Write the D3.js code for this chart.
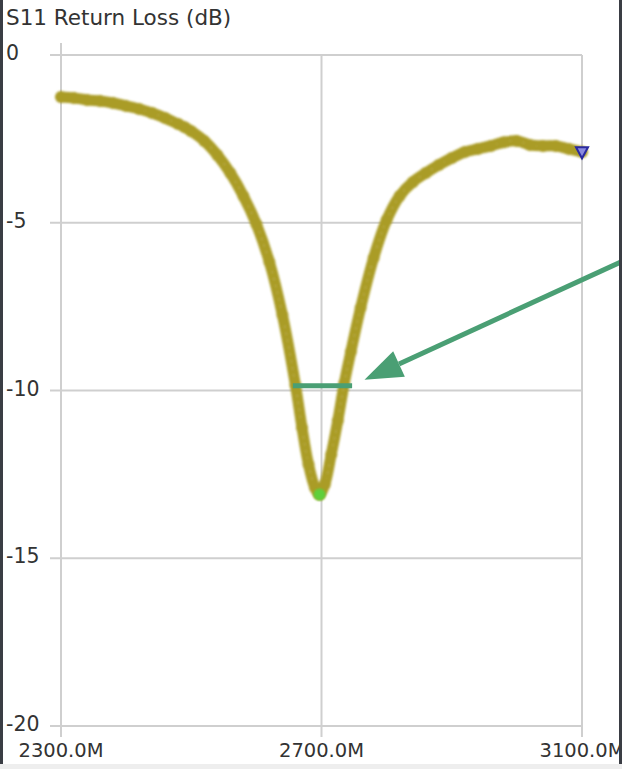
<!DOCTYPE html>
<html><head><meta charset="utf-8">
<script src="https://cdn.jsdelivr.net/npm/d3@7"></script>
<style>
html,body{margin:0;padding:0;background:#fff;}
svg{display:block;}
text{font-family:"DejaVu Sans",Verdana,sans-serif;fill:#333;}
</style></head>
<body>
<script>
// ---- data ----
const title = "S11 Return Loss (dB)";
const freqMHz = [2300,2320,2340,2360,2380,2400,2420,2440,2460,2480,2490,2500,2520,2540,2560,2580,2600,2620,2640,2660,2670,2680,2690,2697,2705,2715,2725,2735,2745,2760,2780,2800,2820,2840,2860,2880,2900,2920,2940,2960,2980,3000,3020,3040,3060,3080,3100];
const s11dB = [-1.25,-1.28,-1.34,-1.37,-1.43,-1.52,-1.61,-1.73,-1.88,-2.06,-2.15,-2.27,-2.56,-2.98,-3.52,-4.2,-5.04,-6.17,-7.75,-9.84,-11.1,-12.2,-12.9,-13.1,-12.8,-11.9,-10.9,-9.78,-8.85,-7.54,-6.05,-4.92,-4.2,-3.79,-3.52,-3.28,-3.07,-2.89,-2.8,-2.71,-2.6,-2.56,-2.68,-2.71,-2.71,-2.8,-2.89];
const xTicks = [2300,2700,3100];
const xTickLabels = ["2300.0M","2700.0M","3100.0M"];
const yTicks = [0,-5,-10,-15,-20];
const minMarker = {f:2697, db:-13.1};
const endMarker = {f:3100, db:-2.9};
const bandLine = [{f:2656, db:-9.86},{f:2747, db:-9.86}];
const arrow = {from:{f:3162, db:-6.15}, to:{f:2766, db:-9.68}};

// ---- layout ----
const W=622,H=769;
const x = d3.scaleLinear().domain([2300,3100]).range([61,582]);
const y = d3.scaleLinear().domain([0,-20]).range([55,726]);

const svg = d3.select("body").append("svg").attr("width",W).attr("height",H);
svg.append("rect").attr("width",W).attr("height",H).attr("fill","#fff");

const grid = "#cfcfcf";
svg.append("g").selectAll("line").data(yTicks).join("line")
  .attr("x1",50).attr("x2",x(3100)).attr("y1",d=>y(d)).attr("y2",d=>y(d))
  .attr("stroke",grid).attr("stroke-width",2);
svg.append("g").selectAll("line").data(xTicks).join("line")
  .attr("x1",d=>x(d)).attr("x2",d=>x(d))
  .attr("y1",(d,i)=>i===0?43:y(0)).attr("y2",737)
  .attr("stroke",grid).attr("stroke-width",2);

// title
svg.append("text").attr("x",6).attr("y",25).attr("font-size",21.5).text(title);
// y labels
svg.append("g").selectAll("text").data(yTicks).join("text")
  .attr("x",6).attr("y",d=>y(d)-2).attr("dy","0.35em").attr("font-size",20.5)
  .text(d=>d===0?"0":String(d).replace("\u2212","-"));
// x labels
svg.append("g").selectAll("text").data(xTicks).join("text")
  .attr("x",d=>x(d)).attr("y",757).attr("text-anchor","middle").attr("font-size",19.5)
  .text((d,i)=>xTickLabels[i]);

// trace
const pts = freqMHz.map((f,i)=>({f,db:s11dB[i]}));
const defs = svg.append("defs");
defs.append("filter").attr("id","soft").append("feGaussianBlur").attr("stdDeviation",0.8);
const line = d3.line().x(d=>x(d.f)).y(d=>y(d.db)).curve(d3.curveCatmullRom);
const tg = svg.append("g").attr("filter","url(#soft)");
tg.append("path").datum(pts).attr("d",line).attr("fill","none")
  .attr("stroke","#aa9c26").attr("stroke-width",11).attr("stroke-linecap","round").attr("stroke-linejoin","round");
tg.append("path").datum(pts).attr("d",line).attr("fill","none")
  .attr("stroke","#c4b660").attr("stroke-width",2).attr("stroke-dasharray","2 5").attr("opacity",0.5);
tg.selectAll("circle").data(pts).join("circle")
  .attr("cx",d=>x(d.f)).attr("cy",d=>y(d.db)).attr("r",6).attr("fill","#aa9c26");

// min marker
svg.append("circle").attr("cx",x(minMarker.f)).attr("cy",y(minMarker.db)).attr("r",6)
  .attr("fill","#5fcf3a").attr("filter","url(#soft)");
// end marker (inverted triangle)
const ex=x(endMarker.f), ey=y(endMarker.db);
svg.append("path").attr("d",`M${ex-6},${ey-5}L${ex+6},${ey-5}L${ex},${ey+6}Z`)
  .attr("fill","#8a8ae0").attr("stroke","#2a2aa0").attr("stroke-width",2);

// annotation
const ac="#4a9f74";
svg.append("line").attr("x1",x(bandLine[0].f)).attr("x2",x(bandLine[1].f))
  .attr("y1",y(bandLine[0].db)).attr("y2",y(bandLine[1].db))
  .attr("stroke",ac).attr("stroke-width",5);
const ax1=x(arrow.from.f), ay1=y(arrow.from.db), ax2=x(arrow.to.f), ay2=y(arrow.to.db);
const ang=Math.atan2(ay2-ay1,ax2-ax1);
const hl=38, hw=14;
const bx=ax2-hl*Math.cos(ang), by=ay2-hl*Math.sin(ang);
svg.append("line").attr("x1",ax1).attr("y1",ay1).attr("x2",bx).attr("y2",by)
  .attr("stroke",ac).attr("stroke-width",5);
svg.append("path").attr("d",`M${ax2},${ay2}L${bx+hw*Math.sin(ang)},${by-hw*Math.cos(ang)}L${bx-hw*Math.sin(ang)},${by+hw*Math.cos(ang)}Z`)
  .attr("fill",ac);

// frame edges
svg.append("rect").attr("x",0).attr("y",0).attr("width",3).attr("height",H).attr("fill","#3a3d44");
svg.append("rect").attr("x",619).attr("y",0).attr("width",3).attr("height",H).attr("fill","#3a3d44");
svg.append("rect").attr("x",0).attr("y",764).attr("width",W).attr("height",5).attr("fill","#eeeeee");
</script>
</body></html>
